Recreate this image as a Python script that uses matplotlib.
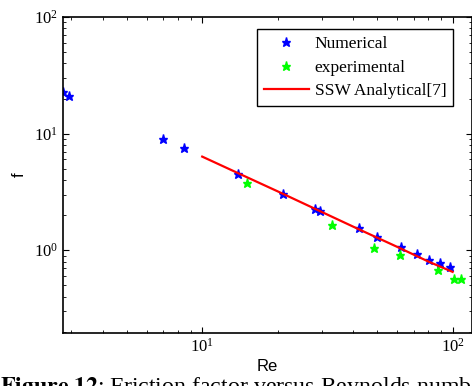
import numpy as np
import matplotlib
matplotlib.use("Agg")
from matplotlib import pyplot as plt

plt.rcParams['mathtext.fontset'] = 'stix'
plt.rcParams['font.family'] = ['Liberation Serif', 'DejaVu Serif']

# numerical results (Re, f)
num_re = [2.77, 2.93, 6.97, 8.42, 13.96, 21.0, 28.2, 29.6, 42.3, 50.1, 62.2, 71.9, 80.8, 89.2, 97.3]
num_f = [22.7, 21.0, 9.06, 7.53, 4.54, 3.02, 2.25, 2.17, 1.54, 1.30, 1.07, 0.924, 0.832, 0.781, 0.722]

# experimental data
exp_re = [15.1, 32.9, 48.5, 61.8, 87.4, 101.2, 107.9]
exp_f = [3.75, 1.66, 1.05, 0.906, 0.674, 0.572, 0.561]

# analytical curve
ssw_re = [10, 14, 20, 30, 42, 60, 80, 100]
ssw_f = [6.35, 4.55, 3.2, 2.13, 1.52, 1.07, 0.80, 0.652]

#%%
fig = plt.figure(figsize=(4.72, 3.86), dpi=100)
ax = fig.add_axes([63/472, 53/386, 408.5/472, 316/386])

ax.plot(num_re, num_f, linestyle="none", marker="*", color=(0, 0, 1), markersize=6.5, label="Numerical")
ax.plot(exp_re, exp_f, linestyle="none", marker="*", color=(0, 1, 0), markersize=6.5, label="experimental")
ax.plot(ssw_re, ssw_f, color=(1, 0, 0), linewidth=1.6, label="SSW Analytical[7]")

ax.set_xscale("log")
ax.set_yscale("log")
ax.set_xlim(2.78, 119)
ax.set_ylim(0.195, 100)

ax.tick_params(which="both", direction="in", top=True, right=True, labelsize=12)
ax.tick_params(which="major", length=4)
ax.tick_params(which="minor", length=2.5)
for s in ax.spines.values():
    s.set_linewidth(1.2)

ax.set_xlabel("Re", family="Liberation Sans", fontsize=12, labelpad=2)
ax.set_ylabel("f", family="Liberation Sans", fontsize=12, labelpad=5)

leg = ax.legend(loc="upper right", bbox_to_anchor=(0.9555, 0.961), borderaxespad=0,
                numpoints=1, fontsize=12.5, fancybox=False, edgecolor="black",
                framealpha=1, handlelength=2.6, handletextpad=0.35, labelspacing=0.42,
                borderpad=0.4)
leg.get_frame().set_linewidth(1.0)

fig.text(0.0, -7/386, r"$\mathbf{Figure\ 12}$: Friction factor versus Reynolds number",
         fontsize=17.2, va="baseline", ha="left")

fig.savefig("out.png", dpi=100)
